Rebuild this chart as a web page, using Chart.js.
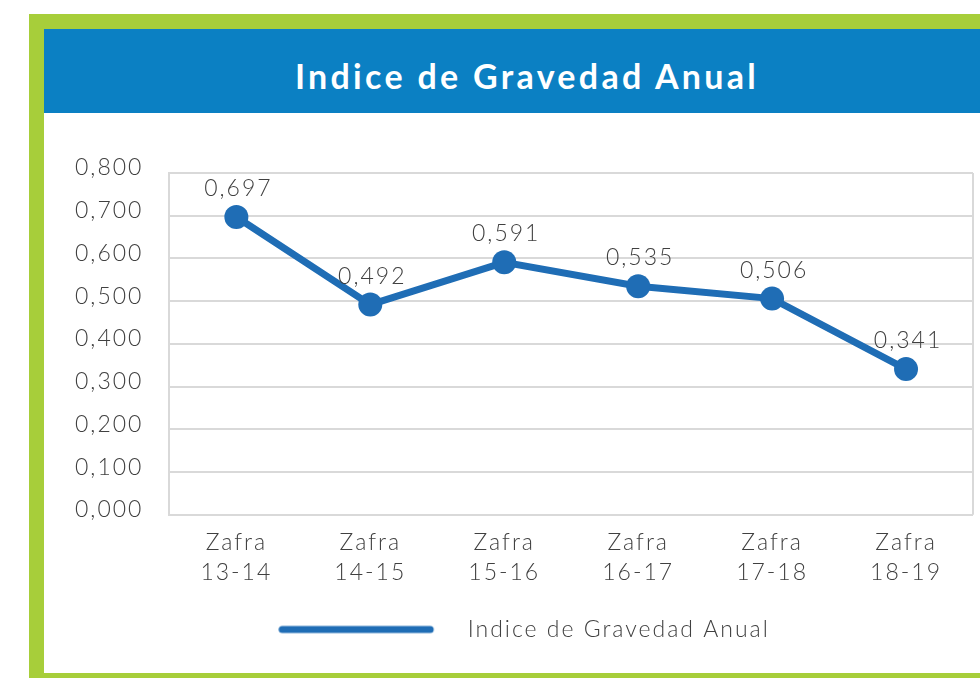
<!DOCTYPE html>
<html><head><meta charset="utf-8">
<script src="https://cdn.jsdelivr.net/npm/chart.js@4.4.1/dist/chart.umd.min.js"></script>
<style>
html,body{margin:0;padding:0;width:980px;height:678px;overflow:hidden;background:#fff;}
#frame{position:absolute;left:29px;top:14px;width:1100px;height:664px;background:#a7ce3a;}
#inner{position:absolute;left:15px;top:15px;width:1100px;height:644px;background:#fff;}
#band{position:absolute;left:0;top:0;width:966px;height:84px;background:#0b80c3;color:#fff;
 font-family:Lato,"Open Sans",sans-serif;font-weight:bold;font-size:34px;letter-spacing:3.3px;text-align:center;line-height:94px;}
#c{position:absolute;left:0;top:84px;}
</style></head>
<body>
<div id="frame"><div id="inner">
<div id="band">Indice de Gravedad Anual</div>
<canvas id="c" width="992" height="560"></canvas>
</div></div>
<script>
const categories = [["Zafra","13-14"],["Zafra","14-15"],["Zafra","15-16"],["Zafra","16-17"],["Zafra","17-18"],["Zafra","18-19"]];
const seriesName = "Indice de Gravedad Anual";
const values = [0.697, 0.492, 0.591, 0.535, 0.506, 0.341];
const yTicks = [0, 0.1, 0.2, 0.3, 0.4, 0.5, 0.6, 0.7, 0.8];

const BLUE = '#1f6db5';
const TEXT = '#404040';
const FONT = 'Lato, "Open Sans", sans-serif';
const FS = 23;
const fmt = v => v.toFixed(3).replace('.', ',');

// legend marker
const lg = document.createElement('canvas');
lg.width = 178; lg.height = 12;
(function(){const g = lg.getContext('2d'); g.strokeStyle = BLUE; g.lineWidth = 7; g.lineCap = 'round';
 g.beginPath(); g.moveTo(4, 6); g.lineTo(152, 6); g.stroke();})();

const spacing = {
  id: 'spacing',
  beforeUpdate(chart){ chart.ctx.letterSpacing = '2px'; },
  beforeDraw(chart){ chart.ctx.letterSpacing = '2px'; }
};
const frameLine = {
  id: 'frameLine',
  afterDraw(chart){
    const {ctx, chartArea:a} = chart;
    ctx.save(); ctx.strokeStyle = '#d9d9d9'; ctx.lineWidth = 2;
    ctx.beginPath(); ctx.moveTo(a.right, a.top); ctx.lineTo(a.right, a.bottom); ctx.stroke();
    ctx.restore();
  }
};
const dataLabels = {
  id: 'dataLabels',
  afterDatasetsDraw(chart){
    const ctx = chart.ctx;
    const meta = chart.getDatasetMeta(0);
    ctx.save();
    ctx.letterSpacing = '2px';
    ctx.font = '300 ' + FS + 'px ' + FONT;
    ctx.fillStyle = TEXT; ctx.textAlign = 'center'; ctx.textBaseline = 'bottom';
    meta.data.forEach((pt, i) => {
      ctx.fillText(fmt(chart.data.datasets[0].data[i]), pt.x + 2, pt.y - 17);
    });
    ctx.restore();
  }
};

new Chart(document.getElementById('c'), {
  type: 'line',
  data: {
    labels: categories,
    datasets: [{
      label: seriesName,
      data: values,
      borderColor: BLUE,
      backgroundColor: BLUE,
      borderWidth: 7,
      borderCapStyle: 'round',
      pointRadius: 12,
      pointBackgroundColor: BLUE,
      pointBorderWidth: 0,
      tension: 0
    }]
  },
  options: {
    responsive: false,
    animation: false,
    devicePixelRatio: 1,
    layout: { padding: { left: 31, right: 63, top: 60, bottom: 22 } },
    scales: {
      x: {
        offset: true,
        grid: { display: false },
        border: { display: false },
        ticks: { color: TEXT, font: { family: FONT, size: FS, weight: 300, lineHeight: 1.33 }, padding: 4, maxRotation: 0 }
      },
      y: {
        min: 0, max: 0.8,
        afterBuildTicks(axis){ axis.ticks = yTicks.map(v => ({value: v})); },
        grid: { color: '#d9d9d9', lineWidth: 2, drawTicks: false },
        border: { display: true, color: '#d9d9d9', width: 2 },
        ticks: { color: TEXT, font: { family: FONT, size: FS, weight: 300 }, padding: 13, crossAlign: 'far', labelOffset: -5,
          callback: v => fmt(v) }
      }
    },
    plugins: {
      legend: {
        position: 'bottom',
        labels: { usePointStyle: true, pointStyle: lg, pointStyleWidth: 178, color: TEXT,
          font: { family: FONT, size: FS, weight: 300 }, padding: 26 }
      },
      tooltip: { enabled: false }
    }
  },
  plugins: [spacing, frameLine, dataLabels]
});
</script>
</body></html>
